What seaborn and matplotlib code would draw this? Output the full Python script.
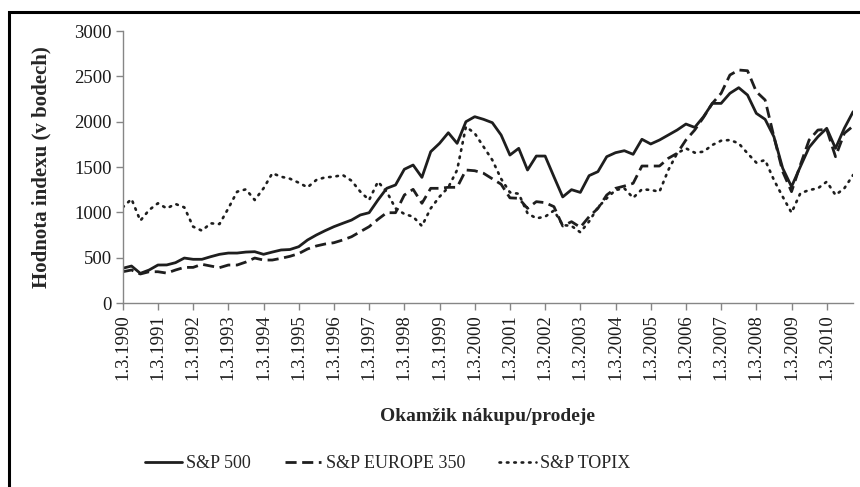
import numpy as np
import pandas as pd
import matplotlib
matplotlib.use('Agg')
import matplotlib.pyplot as plt
from matplotlib.patches import Rectangle
import seaborn as sns

# Settings
sns.set_style('ticks')
plt.rcParams['font.family'] = ['Liberation Serif', 'DejaVu Serif']

# Data: quarterly values 1.3.1990 - 1.12.2010
years = list(range(1990, 2011))
quarters = [f"1.{m}.{y}" for y in years for m in (3, 6, 9, 12)]

sp500 = [383, 408, 327, 364, 419, 420, 445, 496, 482, 482, 511, 537, 551, 551, 562, 566,
         537, 562, 585, 590, 621, 695, 750, 798, 842, 879, 915, 971, 996, 1136, 1265, 1302,
         1475, 1522, 1386, 1669, 1761, 1878, 1761, 2000, 2055, 2026, 1989, 1853, 1632, 1706, 1467, 1621,
         1621, 1393, 1170, 1250, 1220, 1405, 1449, 1614, 1658, 1680, 1640, 1806, 1754, 1798, 1853, 1908,
         1974, 1937, 2055, 2202, 2202, 2313, 2375, 2294, 2092, 2026, 1834, 1486, 1283, 1503, 1717, 1834,
         1927, 1706, 1927, 2110]

europe350 = [345, 364, 320, 345, 345, 330, 364, 393, 393, 427, 408, 390, 419, 419, 452, 496,
             474, 474, 493, 515, 545, 596, 629, 651, 665, 695, 731, 787, 842, 923, 996, 996,
             1191, 1254, 1100, 1265, 1265, 1276, 1276, 1467, 1459, 1431, 1370, 1310, 1160, 1155, 1044, 1118,
             1107, 1063, 849, 897, 835, 952, 1044, 1191, 1265, 1290, 1320, 1511, 1511, 1511, 1596, 1651,
             1798, 1908, 2048, 2202, 2313, 2515, 2570, 2562, 2331, 2239, 1834, 1449, 1228, 1522, 1798, 1908,
             1915, 1614, 1872, 1952]

topix = [1055, 1147, 908, 1026, 1100, 1044, 1092, 1055, 842, 798, 879, 871, 1044, 1228, 1254, 1136,
         1265, 1431, 1393, 1371, 1327, 1276, 1357, 1386, 1393, 1412, 1349, 1228, 1136, 1338, 1228, 1044,
         982, 952, 849, 1044, 1172, 1276, 1467, 1945, 1872, 1724, 1577, 1370, 1220, 1205, 990, 934,
         952, 1020, 860, 850, 780, 900, 1055, 1155, 1246, 1265, 1160, 1254, 1247, 1228, 1467, 1651,
         1706, 1658, 1669, 1743, 1790, 1798, 1761, 1651, 1548, 1577, 1357, 1172, 996, 1210, 1246, 1265,
         1338, 1191, 1265, 1412]

series_names = ['S&P 500', 'S&P EUROPE 350', 'S&P TOPIX']
y_ticks = [0, 500, 1000, 1500, 2000, 2500, 3000]

df = pd.DataFrame({'pos': np.arange(len(quarters)), 'kvartal': quarters,
                   series_names[0]: sp500, series_names[1]: europe350, series_names[2]: topix})

fig = plt.figure(figsize=(8.6, 4.87), dpi=100)
ax = fig.add_axes([0.1427, 0.3778, 0.8493, 0.5585])

line_color = '#1e1e1e'
styles = {'S&P 500': dict(linestyle='-', linewidth=2.0),
          'S&P EUROPE 350': dict(linestyle=(0, (4, 2)), linewidth=2.0),
          'S&P TOPIX': dict(linestyle=(0, (0.6, 2.2)), linewidth=1.9, dash_capstyle='round')}

for name in series_names:
    sns.lineplot(data=df, x='pos', y=name, ax=ax, color=line_color, label=name, **styles[name])

ax.set_xlim(0, len(quarters) - 1)
ax.set_ylim(0, 3000)
ax.set_yticks(y_ticks)
ax.set_xticks(df['pos'][::4])
ax.set_xticklabels(df['kvartal'][::4], rotation=90)
ax.tick_params(axis='both', labelsize=13.5, colors='#868686', labelcolor='#1a1a1a',
               length=5, width=1, direction='out', pad=3)

for s in ['top', 'right']:
    ax.spines[s].set_visible(False)
for s in ['left', 'bottom']:
    ax.spines[s].set_color('#868686')
    ax.spines[s].set_linewidth(1)

ax.set_ylabel('Hodnota indexu (v bodech)', fontsize=15, fontweight='bold', labelpad=16)
ax.set_xlabel('Okamžik nákupu/prodeje', fontsize=14, fontweight='bold', labelpad=20)

ax.legend(loc='upper center', bbox_to_anchor=(0.363, -0.5), ncol=3, frameon=False,
          fontsize=13, handlelength=2.0, columnspacing=1.9, handletextpad=0.25)

# outer frame (cropped at right and bottom)
fig.patches.append(Rectangle((9 / 860, -0.1), 1.2, 1.1 - 12 / 487, transform=fig.transFigure,
                             fill=False, edgecolor='black', linewidth=2.2, clip_on=False))

fig.savefig('out.png', dpi=100)
